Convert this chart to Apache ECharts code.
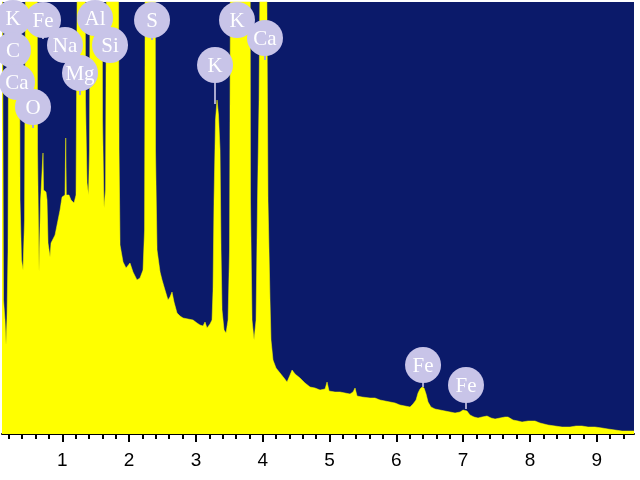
<!DOCTYPE html>
<html>
<head>
<meta charset="utf-8">
<script src="https://cdn.jsdelivr.net/npm/echarts@6/dist/echarts.min.js"></script>
<style>
html,body{margin:0;padding:0;background:#fff;}
#chart{width:640px;height:480px;}
</style>
</head>
<body>
<div id="chart"></div>
<script>
// Energy (keV) and counts of the spectrum (counts beyond 432 are off-scale)
var energy = [
0.097,0.120,0.142,0.157,0.172,0.187,0.202,0.352,0.367,0.389,0.412,0.434,0.457,0.621,0.629,0.651,0.674,0.681,0.704,0.711,0.719,0.756,0.771,0.786,0.816,0.831,0.891,0.921,0.966,0.996,
1.040,1.051,1.060,1.100,1.130,1.175,1.205,1.235,1.340,1.347,1.370,1.392,1.407,1.422,1.594,1.602,1.624,1.647,1.669,1.834,1.849,1.864,1.909,1.954,2.013,2.058,2.118,2.163,2.208,2.231,2.246,
2.388,2.395,2.418,2.463,2.493,2.537,2.582,2.612,2.642,2.672,2.717,2.762,2.807,2.882,2.957,3.016,3.061,3.106,3.136,3.166,3.211,3.241,3.256,3.271,3.293,3.316,3.338,3.361,3.376,3.391,
3.421,3.451,3.481,3.503,3.525,3.810,3.817,3.840,3.870,3.900,3.922,3.945,3.975,4.049,4.079,4.109,4.124,4.154,4.199,4.259,4.319,4.364,4.409,4.439,4.484,4.558,4.633,4.708,4.783,4.858,
4.933,4.963,4.993,5.082,5.157,5.232,5.307,5.352,5.382,5.412,5.487,5.606,5.681,5.756,5.831,5.906,5.981,6.055,6.130,6.205,6.250,6.295,6.325,6.355,6.385,6.415,6.445,6.475,6.519,6.579,
6.654,6.729,6.804,6.879,6.954,6.999,7.028,7.058,7.103,7.163,7.223,7.283,7.358,7.418,7.478,7.552,7.627,7.672,7.747,7.822,7.882,7.972,8.076,8.151,8.271,8.376,8.481,8.600,8.690,8.780,
8.870,8.975,9.079,9.169,9.274,9.379,9.469,9.558
];
var counts = [
600,134,114,89,116,184,600,600,234,174,164,214,600,600,284,162,234,242,244,281,244,242,234,191,177,191,199,209,224,237,
239,296,239,239,234,231,239,600,600,334,251,239,284,600,600,314,226,244,600,600,284,189,172,166,171,162,154,156,164,204,600,
600,284,184,162,154,144,134,137,142,132,121,118,116,115,114,111,109,108,112,106,110,114,144,234,314,334,319,284,184,124,
104,101,114,184,600,600,234,114,94,114,234,334,600,600,234,134,94,74,66,61,56,52,59,64,60,56,51,47,46,44,
45,52,43,42,42,41,40,42,46,38,37,36,36,34,33,32,31,29,28,27,30,34,41,45,47,46,40,32,27,25,
24,23,22,21,22,24,25,23,19,17,16,17,18,16,15,16,17,17,14,13,12,13,13,11,9,8,7,7,8,8,
7,7,6,5,4,3,3,3
];

// Element labels: name, energy of the marker, height of the bubble, height where the stem ends
var labelNames  = ['K','C','Ca','O','Fe','Na','Mg','Al','Si','S','K','K','Ca','Fe','Fe'];
var labelEnergy = [0.262,0.262,0.322,0.561,0.711,1.040,1.265,1.490,1.714,2.343,3.286,3.615,4.034,6.400,7.043];
var labelHeight = [416,384,352,327,414,389,361,416,389,414,369,414,396,69,49];
var stemEnd     = [394,362,334,306,395,372,339,396,371,394,330,396,374,47,25];

// Axis ticks (keV)
var xMajorTicks = [1,2,3,4,5,6,7,8,9];
var xMinorTicks = [0.2,0.4,0.6,0.8,1.2,1.4,1.6,1.8,2.2,2.4,2.6,2.8,3.2,3.4,3.6,3.8,4.2,4.4,4.6,4.8,5.2,5.4,5.6,5.8,
                   6.2,6.4,6.6,6.8,7.2,7.4,7.6,7.8,8.2,8.4,8.6,8.8,9.2,9.4];

var spectrum = energy.map(function(e,i){ return [e, counts[i]]; });
var labels = labelEnergy.map(function(e,i){ return [e, labelHeight[i], stemEnd[i]]; });

var axisFont = '"Liberation Sans Narrow", "Arial Narrow", "Liberation Sans", sans-serif';

var chart = echarts.init(document.getElementById('chart'));
chart.setOption({
  animation: false,
  backgroundColor: '#ffffff',
  grid: {left: 2, right: 6, top: 2, bottom: 46, show: true, backgroundColor: '#0b1a6a', borderWidth: 0},
  xAxis: [{
    type: 'value', min: 0.097, max: 9.558,
    axisLine: {show: true, lineStyle: {color: '#000', width: 2}},
    axisTick: {show: true, length: 8, customValues: xMajorTicks, lineStyle: {color: '#000', width: 2}},
    splitLine: {show: false},
    axisLabel: {
      color: '#000', fontSize: 19, margin: 17, fontFamily: axisFont,
      customValues: xMajorTicks,
      formatter: function(v){ return String(Math.round(v)); }
    }
  }, {
    type: 'value', min: 0.097, max: 9.558, position: 'bottom',
    axisLine: {show: false},
    axisTick: {show: true, length: 5, customValues: xMinorTicks, lineStyle: {color: '#000', width: 2}},
    axisLabel: {show: false},
    splitLine: {show: false}
  }],
  yAxis: {type: 'value', min: 0, max: 432, show: false, splitLine: {show: false}},
  series: [
    {
      type: 'line', data: spectrum, showSymbol: false, symbol: 'none', clip: true,
      lineStyle: {width: 0.5, color: '#ffff00'},
      areaStyle: {color: '#ffff00', opacity: 1},
      z: 2
    },
    {
      type: 'custom', data: labels, z: 5, clip: false,
      renderItem: function(params, api){
        var c = api.coord([api.value(0), api.value(1)]);
        var s = api.coord([api.value(0), api.value(2)]);
        var r = 18;
        return {
          type: 'group',
          children: [
            {type: 'line', shape: {x1: c[0], y1: c[1], x2: s[0], y2: s[1]}, style: {stroke: '#a9a9cf', lineWidth: 2}},
            {type: 'circle', shape: {cx: c[0], cy: c[1], r: r}, style: {fill: '#c8c4e8'}},
            {type: 'text', style: {text: labelNames[params.dataIndex], x: c[0], y: c[1] + 1, align: 'center', verticalAlign: 'middle', fill: '#ffffff', font: '21px "Liberation Serif", "DejaVu Serif", serif'}}
          ]
        };
      }
    }
  ]
});
</script>
</body>
</html>
